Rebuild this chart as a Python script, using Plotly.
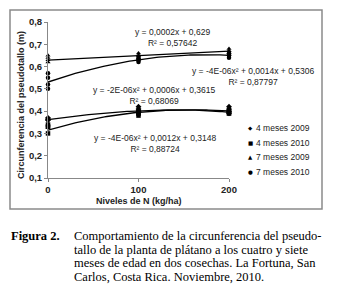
import numpy as np
import plotly.graph_objects as go

# ---------------- data ----------------
niveles = [0, 0, 0, 0, 100, 100, 100, 100, 200, 200, 200, 200]
m4_2009 = [0.37, 0.365, 0.36, 0.36, 0.42, 0.41, 0.40, 0.40, 0.42, 0.41, 0.40, 0.39]
m4_2010 = [0.34, 0.33, 0.30, 0.33, 0.40, 0.39, 0.38, 0.39, 0.40, 0.39, 0.39, 0.40]
m7_2009 = [0.65, 0.64, 0.63, 0.62, 0.66, 0.65, 0.64, 0.65, 0.68, 0.67, 0.66, 0.67]
m7_2010 = [0.57, 0.55, 0.52, 0.50, 0.64, 0.63, 0.62, 0.63, 0.66, 0.65, 0.64, 0.65]

series_names = ["4 meses 2009", "4 meses 2010", "7 meses 2009", "7 meses 2010"]
series_vals = [m4_2009, m4_2010, m7_2009, m7_2010]
series_symbols = ["diamond", "square", "triangle-up", "circle"]
legend_glyphs = ["◆", "■", "▲", "●"]

# trendline coefficients (a2, a1, a0) as printed on the chart
trend_coefs = [
    (-2e-06, 0.0006, 0.3615),
    (-4e-06, 0.0012, 0.3148),
    (0.0, 0.0002, 0.629),
    (-4e-06, 0.0014, 0.5306),
]
trend_labels = [
    "y = -2E-06x² + 0,0006x + 0,3615<br>R² = 0,68069",
    "y = -4E-06x² + 0,0012x + 0,3148<br>R² = 0,88724",
    "y = 0,0002x + 0,629<br>R² = 0,57642",
    "y = -4E-06x² + 0,0014x + 0,5306<br>R² = 0,87797",
]
# label positions in pixels (center x, center y)
label_pos = [(154, 95), (155, 143), (172, 38), (253, 76)]

x_ticks = [0, 100, 200]
y_ticks = [0.1, 0.2, 0.3, 0.4, 0.5, 0.6, 0.7, 0.8]
x_title = "Niveles de N (kg/ha)"
y_title = "Circunferencia del pseudotallo (m)"

caption_head = "Figura 2."
caption_lines = [
    "Comportamiento de la circunferencia del pseudo-",
    "tallo de la planta de plátano a los cuatro y siete",
    "meses de edad en dos cosechas. La Fortuna, San",
    "Carlos, Costa Rica. Noviembre, 2010.",
]

# ---------------- layout geometry ----------------
W, H = 339, 302
L, R, T, B = 48, 110, 22, 124
PW, PH = W - L - R, H - T - B


def px(xp):
    return (xp - L) / PW


def py(yp):
    return (H - B - yp) / PH


fig = go.Figure()

xs = np.linspace(0, 200, 81)
for coefs in trend_coefs:
    a2, a1, a0 = coefs
    fig.add_trace(go.Scatter(x=xs, y=a2 * xs**2 + a1 * xs + a0, mode="lines",
                             line=dict(color="black", width=1.3),
                             showlegend=False, hoverinfo="skip"))

for name, vals, sym in zip(series_names, series_vals, series_symbols):
    fig.add_trace(go.Scatter(x=niveles, y=vals, mode="markers", name=name,
                             marker=dict(symbol=sym, size=4.5, color="black"),
                             cliponaxis=False, showlegend=False))

sans = "Arial, Liberation Sans"
annotations = []
for txt, (cx, cy) in zip(trend_labels, label_pos):
    annotations.append(dict(x=px(cx), y=py(cy), xref="paper", yref="paper",
                            text=txt, showarrow=False, align="center",
                            font=dict(family=sans, size=8.5, color="#222"),
                            xanchor="center", yanchor="middle"))

# axis titles
annotations.append(dict(x=px(139), y=py(201), xref="paper", yref="paper",
                        text="<b>" + x_title + "</b>", showarrow=False,
                        xanchor="center", yanchor="middle",
                        font=dict(family=sans, size=9, color="#222")))
annotations.append(dict(x=px(21), y=py(105), xref="paper", yref="paper",
                        text="<b>" + y_title + "</b>", showarrow=False, textangle=-90,
                        xanchor="center", yanchor="middle",
                        font=dict(family=sans, size=9, color="#222")))

# legend drawn as text
for i, (name, glyph) in enumerate(zip(series_names, legend_glyphs)):
    yy = 128 + i * 14.5
    annotations.append(dict(x=px(250), y=py(yy), xref="paper", yref="paper",
                            text=glyph, showarrow=False, xanchor="center", yanchor="middle",
                            font=dict(family="DejaVu Sans", size=5.5, color="black")))
    annotations.append(dict(x=px(253.5), y=py(yy), xref="paper", yref="paper",
                            text=name, showarrow=False, xanchor="left", yanchor="middle",
                            font=dict(family=sans, size=8.5, color="#222")))

serif = "Liberation Serif, Times New Roman, serif"
annotations.append(dict(x=px(9), y=py(236), xref="paper", yref="paper",
                        text="<b>" + caption_head + "</b>", showarrow=False,
                        xanchor="left", yanchor="middle",
                        font=dict(family=serif, size=12.5, color="black")))
for i, line in enumerate(caption_lines):
    annotations.append(dict(x=px(72), y=py(236 + i * 13.7), xref="paper", yref="paper",
                            text=line, showarrow=False, xanchor="left", yanchor="middle",
                            font=dict(family=serif, size=12.5, color="black")))

fig.update_layout(
    width=W, height=H,
    margin=dict(l=L, r=R, t=T, b=B, pad=0),
    paper_bgcolor="white", plot_bgcolor="white",
    separators=",.",
    showlegend=False,
    annotations=annotations,
    shapes=[dict(type="rect", xref="paper", yref="paper",
                 x0=px(10), x1=px(322), y0=py(10), y1=py(209),
                 line=dict(color="#8a8a8a", width=1.5), layer="below")],
    xaxis=dict(range=[0, 200], tickvals=x_ticks, ticktext=[str(v) for v in x_ticks],
               showgrid=False, zeroline=False, showline=True, linecolor="#888",
               linewidth=1, ticks="outside", ticklen=3, tickcolor="#888",
               tickfont=dict(family=sans, size=9.5, color="#222", weight="bold")),
    yaxis=dict(range=[0.1, 0.8], tickvals=y_ticks, tickformat=".1f",
               showgrid=False, zeroline=False, showline=True, linecolor="#888",
               linewidth=1, ticks="outside", ticklen=3, tickcolor="#888",
               tickfont=dict(family=sans, size=9.5, color="#222", weight="bold")),
)

fig.write_html("out.html", post_script="document.body.style.margin='0';",
               config={"displayModeBar": False})
